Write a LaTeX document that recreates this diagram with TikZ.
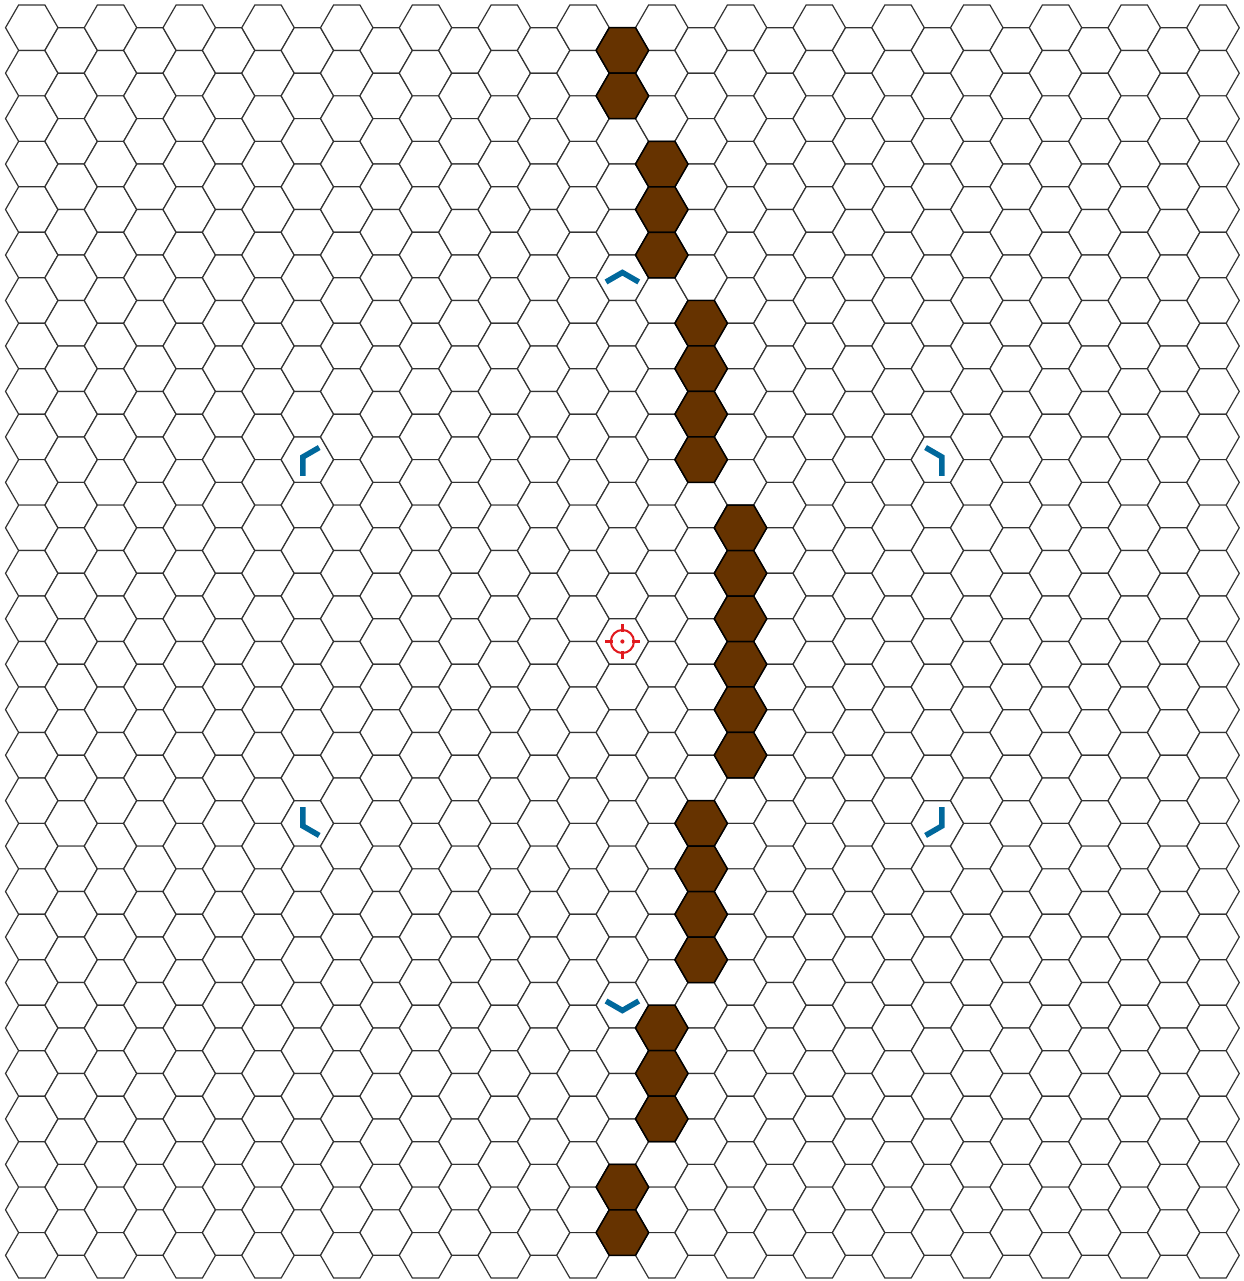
\documentclass[tikz,border=0pt]{standalone}
\usepackage{tikz}
\usetikzlibrary{calc}
\definecolor{mudbrown}{RGB}{102,51,0}
\definecolor{markblue}{RGB}{0,104,156}
\definecolor{aimred}{RGB}{225,25,30}

\begin{document}
\begin{tikzpicture}[x=0.5cm, y=0.5cm,
    hexcell/.style={draw=black!80, line width=0.65pt, fill=white},
    mudcell/.style={draw=black, line width=0.8pt, fill=mudbrown},
    corner/.style={draw=markblue, line width=3pt, line join=miter},
    aim/.style={draw=aimred, line width=1.1pt},
]
\useasboundingbox (-1.21,1.055) rectangle (46.18,-47.745);

% Map grid, odd columns half a row lower
\foreach \c in {0,...,30} {
  \pgfmathsetmacro{\cx}{1.5*\c}
  \pgfmathsetmacro{\cy}{isodd(\c) ? -0.866 : 0}
  \pgfmathtruncatemacro{\rmax}{isodd(\c) ? 26 : 27}
  \foreach \r in {0,...,\rmax}
    \draw[hexcell] (\cx,{\cy-1.7321*\r}) +(0:1) -- +(60:1) -- +(120:1) -- +(180:1) -- +(240:1) -- +(300:1) -- cycle;
}

% Mud cells (column/row)
\foreach \c/\r in {15/0,15/1, 16/3,16/4,16/5, 17/6,17/7,17/8,17/9,
                   18/11,18/12,18/13,18/14,18/15,18/16,
                   17/17,17/18,17/19,17/20, 16/22,16/23,16/24, 15/25,15/26} {
  \pgfmathsetmacro{\cx}{1.5*\c}
  \pgfmathsetmacro{\cy}{(isodd(\c) ? -0.866 : 0)-1.7321*\r}
  \draw[mudcell] (\cx,\cy) +(0:1) -- +(60:1) -- +(120:1) -- +(180:1) -- +(240:1) -- +(300:1) -- cycle;
}

% Target in the middle cell
\coordinate (aimpt) at (22.5,-23.383);
\draw[aim] (aimpt) circle (0.44);
\fill[aimred] (aimpt) circle (0.08);
\foreach \a in {0,90,180,270}
  \draw[aim, line width=1.3pt] ($(aimpt)+(\a:0.36)$) -- ($(aimpt)+(\a:0.68)$);

% Corner marks of the ring
\foreach \name/\px/\py/\a in {cnN/22.5/-9.526/90, cnS/22.5/-37.239/270,
                              cnNW/10.5/-16.454/150, cnNE/34.5/-16.454/30,
                              cnSW/10.5/-30.311/210, cnSE/34.5/-30.311/330} {
  \coordinate (\name) at (\px,\py);
  \draw[corner] (\name) ++(\a:0.2) +(\a+120:0.72) -- +(0,0) -- +(\a-120:0.72);
}
\end{tikzpicture}
\end{document}
